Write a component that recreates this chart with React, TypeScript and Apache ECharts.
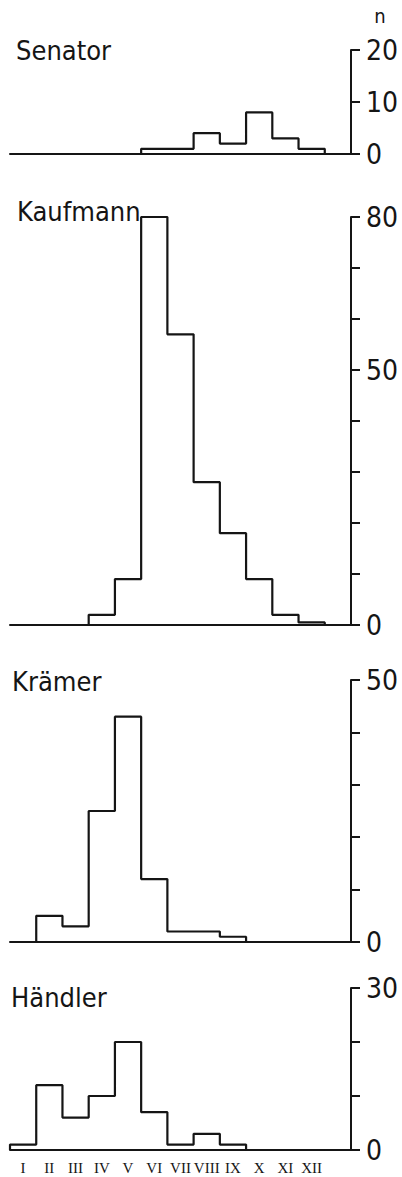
import React, { useEffect, useRef } from "react";
import * as echarts from "echarts";

const months = ["I", "II", "III", "IV", "V", "VI", "VII", "VIII", "IX", "X", "XI", "XII"];
const senator = [0, 0, 0, 0, 0, 1, 1, 4, 2, 8, 3, 1];
const kaufmann = [0, 0, 0, 2, 9, 80, 57, 28, 18, 9, 2, 0.5];
const kraemer = [0, 5, 3, 25, 43, 12, 2, 2, 1, 0, 0, 0];
const haendler = [1, 12, 6, 10, 20, 7, 1, 3, 1, 0, 0, 0];

const panelNames = ["Senator", "Kaufmann", "Krämer", "Händler"];
const panelValues = [senator, kaufmann, kraemer, haendler];
const panelMax = [20, 80, 50, 30];
const panelLabels = [[0, 10, 20], [0, 50, 80], [0, 50], [0, 30]];

const INK = "#151515";
const titleFont = "'DejaVu Sans Condensed', 'DejaVu Sans', sans-serif";
const digitFont = "'Liberation Sans Narrow', 'DejaVu Sans Condensed', sans-serif";

const grids = [
  { top: 50, height: 104 },
  { top: 217, height: 408 },
  { top: 680, height: 262 },
  { top: 988, height: 162 },
];
const titlePos = [
  { x: 16, y: 50 },
  { x: 17, y: 211 },
  { x: 12, y: 681 },
  { x: 11, y: 997 },
];

function stepData(vals: number[]) {
  const d: number[][] = [[0, 0]];
  vals.forEach((v, i) => d.push([i, v]));
  d.push([vals.length, 0]);
  return d;
}

export default function App() {
  const ref = useRef<HTMLDivElement>(null);
  useEffect(() => {
    if (!ref.current) return;
    const chart = echarts.init(ref.current, null, { renderer: "svg" });
    const last = panelNames.length - 1;
    const option: any = {
      animation: false,
      backgroundColor: "#ffffff",
      grid: grids.map((g) => ({ left: 10, width: 341, top: g.top, height: g.height })),
      xAxis: grids.map((_, k) => ({
        type: "value",
        gridIndex: k,
        min: 0,
        max: 13,
        interval: 0.5,
        axisLine: { show: true, onZero: false, lineStyle: { color: INK, width: 2 } },
        axisTick: { show: false },
        splitLine: { show: false },
        axisLabel: {
          show: k === last,
          margin: 10,
          color: INK,
          fontFamily: "'Liberation Serif', 'DejaVu Serif', serif",
          fontSize: 15,
          formatter: (v: number) => {
            const i = Math.round(v * 2);
            if (i % 2 === 1) return months[(i - 1) / 2] ?? "";
            return "";
          },
        },
      })),
      yAxis: grids.map((_, k) => ({
        type: "value",
        gridIndex: k,
        position: "right",
        min: 0,
        max: panelMax[k],
        interval: 10,
        axisLine: { show: true, onZero: false, lineStyle: { color: INK, width: 2 } },
        axisTick: { show: true, inside: false, length: 9, lineStyle: { color: INK, width: 2 } },
        splitLine: { show: false },
        axisLabel: {
          margin: 15,
          color: INK,
          fontFamily: digitFont,
          fontSize: 28,
          formatter: (v: number) => (panelLabels[k].includes(v) ? String(v) : ""),
        },
      })),
      series: panelValues.map((vals, k) => ({
        type: "line",
        name: panelNames[k],
        xAxisIndex: k,
        yAxisIndex: k,
        step: "end",
        symbol: "none",
        data: stepData(vals),
        lineStyle: { color: INK, width: 2.2 },
        z: 3,
      })),
      graphic: [
        ...panelNames.map((name, k) => ({
          type: "text",
          x: titlePos[k].x,
          y: titlePos[k].y,
          style: {
            text: name,
            fill: INK,
            font: `27px ${titleFont}`,
            textVerticalAlign: "middle",
          },
        })),
        {
          type: "text",
          x: 380,
          y: 16,
          style: {
            text: "n",
            fill: INK,
            font: `20px ${titleFont}`,
            textAlign: "center",
            textVerticalAlign: "middle",
          },
        },
      ],
    };
    chart.setOption(option);
    return () => chart.dispose();
  }, []);
  return (
    <div
      ref={ref}
      style={{ position: "fixed", left: 0, top: 0, width: 402, height: 1177, background: "#fff" }}
    />
  );
}
